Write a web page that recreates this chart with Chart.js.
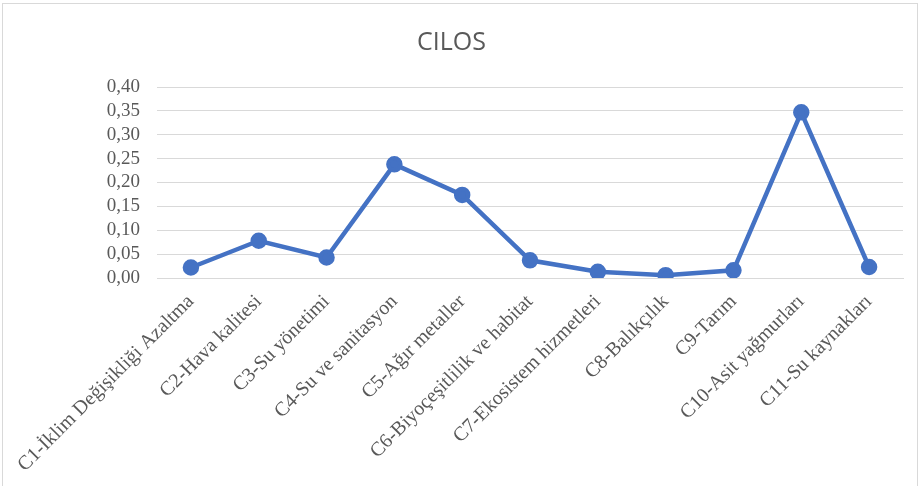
<!DOCTYPE html>
<html>
<head>
<meta charset="utf-8">
<script src="https://cdn.jsdelivr.net/npm/chart.js@4.4.0/dist/chart.umd.min.js"></script>
<style>
  html, body { margin: 0; padding: 0; background: #fff; }
  #kutu { position: absolute; left: 0; top: 0; width: 921px; height: 486px; }
  #cerceve { position: absolute; left: 2px; top: 3px; width: 914px; height: 495px; border: 1px solid #d9d9d9; pointer-events: none; }
</style>
</head>
<body>
<div id="kutu"><canvas id="grafik" width="921" height="486"></canvas></div>
<div id="cerceve"></div>
<script>
const kategoriler = [
  'C1-İklim Değişikliği Azaltma',
  'C2-Hava kalitesi',
  'C3-Su yönetimi',
  'C4-Su ve sanitasyon',
  'C5-Ağır metaller',
  'C6-Biyoçeşitlilik ve habitat',
  'C7-Ekosistem hizmetleri',
  'C8-Balıkçılık',
  'C9-Tarım',
  'C10-Asit yağmurları',
  'C11-Su kaynakları'
];
const degerler = [0.022, 0.078, 0.043, 0.238, 0.174, 0.037, 0.013, 0.006, 0.016, 0.347, 0.023];
const yTikler = [0, 0.05, 0.10, 0.15, 0.20, 0.25, 0.30, 0.35, 0.40];

const gri = '#595959';
const mavi = '#4472C4';

// Excel'deki gibi virgüllü ondalık
function virgullu(v) {
  return v.toFixed(2).replace('.', ',');
}

const ctx = document.getElementById('grafik').getContext('2d');
new Chart(ctx, {
  type: 'line',
  data: {
    labels: kategoriler,
    datasets: [{
      label: 'CILOS',
      data: degerler,
      borderColor: mavi,
      backgroundColor: mavi,
      borderWidth: 4.5,
      pointRadius: 6,
      pointBackgroundColor: mavi,
      pointBorderColor: mavi,
      fill: false,
      tension: 0
    }]
  },
  options: {
    responsive: false,
    animation: false,
    layout: { padding: { left: 0, right: 18, top: 0, bottom: 0 } },
    plugins: {
      legend: { display: false },
      tooltip: { enabled: false },
      title: {
        display: true,
        text: 'CILOS',
        color: gri,
        font: { family: 'Open Sans', size: 25, weight: 'normal' },
        padding: { top: 28, bottom: 29 }
      }
    },
    scales: {
      x: {
        offset: true,
        grid: { display: false, drawTicks: false },
        border: { display: true, color: '#d9d9d9' },
        ticks: {
          autoSkip: false,
          minRotation: 45,
          maxRotation: 45,
          padding: 12,
          color: gri,
          font: { family: 'Liberation Serif', size: 20 }
        },
        afterFit: (s) => { s.height = 208; }
      },
      y: {
        min: 0,
        max: 0.4,
        afterBuildTicks: (s) => { s.ticks = yTikler.map(v => ({ value: v })); },
        grid: { color: '#d9d9d9', lineWidth: 1, drawTicks: false },
        border: { display: false },
        ticks: {
          autoSkip: false,
          padding: 17,
          color: gri,
          font: { family: 'Liberation Serif', size: 19 },
          callback: (v) => virgullu(v)
        },
        afterFit: (s) => { s.width = 157; }
      }
    }
  }
});
</script>
</body>
</html>
